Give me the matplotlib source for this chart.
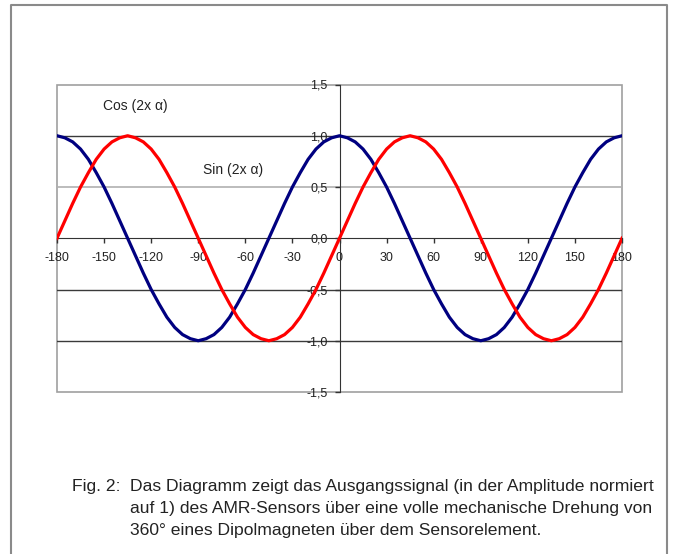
import matplotlib
matplotlib.use("Agg")
import matplotlib.pyplot as plt
from matplotlib.patches import Rectangle
from matplotlib.lines import Line2D

plt.rcParams['font.family'] = ['Liberation Sans', 'DejaVu Sans']

# Winkel alpha in Grad (5 Grad Schritte)
winkel = list(range(-180, 181, 5))

cos_werte = [1.00, 0.98, 0.94, 0.87, 0.77, 0.64, 0.50, 0.34, 0.17, 0.00,
             -0.17, -0.34, -0.50, -0.64, -0.77, -0.87, -0.94, -0.98, -1.00,
             -0.98, -0.94, -0.87, -0.77, -0.64, -0.50, -0.34, -0.17, 0.00,
             0.17, 0.34, 0.50, 0.64, 0.77, 0.87, 0.94, 0.98,
             1.00, 0.98, 0.94, 0.87, 0.77, 0.64, 0.50, 0.34, 0.17, 0.00,
             -0.17, -0.34, -0.50, -0.64, -0.77, -0.87, -0.94, -0.98, -1.00,
             -0.98, -0.94, -0.87, -0.77, -0.64, -0.50, -0.34, -0.17, 0.00,
             0.17, 0.34, 0.50, 0.64, 0.77, 0.87, 0.94, 0.98, 1.00]

sin_werte = [0.00, 0.17, 0.34, 0.50, 0.64, 0.77, 0.87, 0.94, 0.98, 1.00,
             0.98, 0.94, 0.87, 0.77, 0.64, 0.50, 0.34, 0.17, 0.00,
             -0.17, -0.34, -0.50, -0.64, -0.77, -0.87, -0.94, -0.98, -1.00,
             -0.98, -0.94, -0.87, -0.77, -0.64, -0.50, -0.34, -0.17,
             0.00, 0.17, 0.34, 0.50, 0.64, 0.77, 0.87, 0.94, 0.98, 1.00,
             0.98, 0.94, 0.87, 0.77, 0.64, 0.50, 0.34, 0.17, 0.00,
             -0.17, -0.34, -0.50, -0.64, -0.77, -0.87, -0.94, -0.98, -1.00,
             -0.98, -0.94, -0.87, -0.77, -0.64, -0.50, -0.34, -0.17, 0.00]

x_ticks = [-180, -150, -120, -90, -60, -30, 0, 30, 60, 90, 120, 150, 180]
y_ticks = [1.5, 1.0, 0.5, 0.0, -0.5, -1.0, -1.5]
y_labels = ["1,5", "1,0", "0,5", "0,0", "-0,5", "-1,0", "-1,5"]

caption = ["Das Diagramm zeigt das Ausgangssignal (in der Amplitude normiert",
           "auf 1) des AMR-Sensors über eine volle mechanische Drehung von",
           "360° eines Dipolmagneten über dem Sensorelement."]

W, H = 673, 554
fig = plt.figure(figsize=(W / 100, H / 100), dpi=100)
ax = fig.add_axes([57 / W, 1 - 392 / H, 565 / W, 307.5 / H])

ax.set_xlim(-180, 180)
ax.set_ylim(-1.5, 1.5)

# Gitterlinien
ax.axhline(0.5, color="#b0b0b0", lw=1.2, zorder=1)
for g in [1.0, -0.5, -1.0]:
    ax.axhline(g, color="#3a3a3a", lw=1.0, zorder=1)

ax.plot(winkel, cos_werte, color="#000080", lw=2.3, zorder=3)
ax.plot(winkel, sin_werte, color="#ff0000", lw=2.3, zorder=3)

# Achsen durch den Nullpunkt
for s in ["top", "right"]:
    ax.spines[s].set_visible(False)
ax.spines["left"].set_position(("data", 0))
ax.spines["bottom"].set_position(("data", 0))
ax.spines["left"].set_color("#333333")
ax.spines["bottom"].set_color("#333333")
ax.add_patch(Rectangle((0, 0), 1, 1, transform=ax.transAxes, fill=False,
                       ec="#a0a0a0", lw=1.2, clip_on=False, zorder=0))

ax.set_xticks(x_ticks)
ax.set_xticklabels([str(v) for v in x_ticks])
ax.set_yticks(y_ticks)
ax.set_yticklabels(y_labels)
ax.tick_params(axis="x", direction="out", length=3.6, width=1, color="#333333",
               labelsize=9, pad=6, labelcolor="#222222")
ax.tick_params(axis="y", direction="out", length=3.6, width=1, color="#333333",
               labelsize=9, pad=5, labelcolor="#222222")

ax.text(-150.5, 1.29, "Cos (2x α)", fontsize=10, va="center", ha="left", color="#222222")
ax.text(-87, 0.67, "Sin (2x α)", fontsize=10, va="center", ha="left", color="#222222")

# Rahmen um das Bild
fig.add_artist(Line2D([11 / W, 11 / W, 667 / W, 667 / W], [0, 1 - 5 / H, 1 - 5 / H, 0],
                      transform=fig.transFigure, color="#8a8a8a", lw=1.5))

# Bildunterschrift
fig.text(72 / W, 1 - 491 / H, "Fig. 2:", fontsize=12.6, va="baseline", ha="left", color="#222222")
for i, zeile in enumerate(caption):
    fig.text(130 / W, 1 - (491 + 22 * i) / H, zeile, fontsize=12.6, va="baseline",
             ha="left", color="#222222")

fig.savefig("out.png", dpi=100)
